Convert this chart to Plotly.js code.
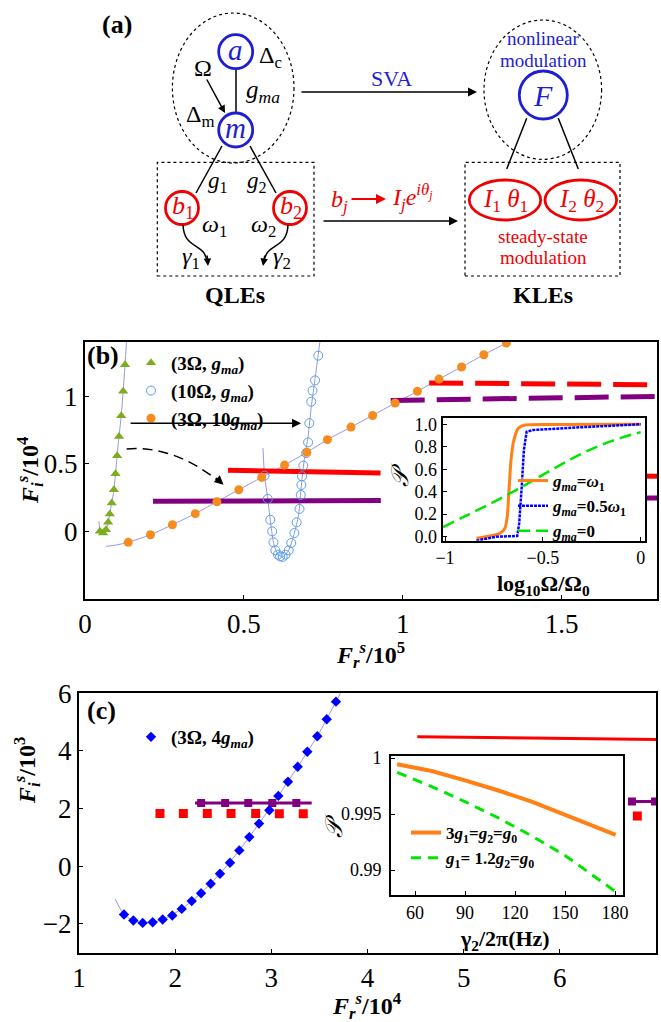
<!DOCTYPE html>
<html><head><meta charset="utf-8">
<script src="https://cdn.plot.ly/plotly-3.0.1.min.js"></script>
<style>body{margin:0;background:#fff}</style>
</head><body>
<div id="chart" style="width:661px;height:1022px"></div>
<script>
// ---------- Panel (b) data ----------
const bTriX = [0.047,0.057,0.066,0.073,0.078,0.084,0.091,0.096,0.101,0.107,0.114,0.120,0.126,0.131];
const bTriY = [0.000,-0.012,0.012,0.067,0.128,0.210,0.308,0.426,0.559,0.702,0.855,1.035,1.232,1.417];
const bTriCurveX = [0.044,0.047,0.053,0.060,0.066,0.073,0.078,0.084,0.091,0.096,0.101,0.107,0.114,0.120,0.126,0.131,0.134];
const bTriCurveY = [0.074,0.010,-0.015,-0.008,0.012,0.067,0.128,0.210,0.308,0.426,0.559,0.702,0.855,1.035,1.232,1.417,1.50];

const bCircX = [0.565,0.575,0.583,0.589,0.593,0.599,0.607,0.614,0.622,0.631,0.641,0.649,0.659,0.666,0.675,0.679,0.681,0.683,0.687,0.696,0.702,0.706,0.712,0.716,0.724,0.734];
const bCircY = [0.412,0.240,0.086,0.000,-0.081,-0.140,-0.172,-0.185,-0.189,-0.172,-0.140,-0.086,-0.012,0.067,0.166,0.269,0.343,0.407,0.486,0.579,0.658,0.800,0.959,1.040,1.116,1.299];
const bCircCurveX = [0.560,0.565,0.575,0.583,0.593,0.607,0.622,0.641,0.659,0.672,0.681,0.690,0.702,0.712,0.724,0.740];
const bCircCurveY = [0.616,0.412,0.240,0.086,-0.081,-0.172,-0.189,-0.140,-0.012,0.120,0.343,0.530,0.700,0.920,1.130,1.417];

const bOrX = [0.136,0.206,0.275,0.347,0.415,0.484,0.556,0.628,0.698,0.763,0.837,0.905,0.976,1.046,1.114,1.185,1.255,1.326];
const bOrY = [-0.081,-0.025,0.049,0.131,0.219,0.308,0.399,0.490,0.584,0.678,0.771,0.857,0.949,1.035,1.126,1.215,1.306,1.392];
const bOrCurveX = [0.066,0.100,0.136,0.206,0.275,0.347,0.415,0.484,0.556,0.628,0.698,0.763,0.837,0.905,0.976,1.046,1.114,1.185,1.255,1.326,1.36];
const bOrCurveY = [-0.111,-0.100,-0.081,-0.025,0.049,0.131,0.219,0.308,0.399,0.490,0.584,0.678,0.771,0.857,0.949,1.035,1.126,1.215,1.306,1.392,1.43];

const bRedSolidX = [0.45,0.93],  bRedSolidY = [0.451,0.431];
const bRedSolid2X = [1.60,1.80], bRedSolid2Y = [0.412,0.407];
const bPurSolidX = [0.214,0.931], bPurSolidY = [0.222,0.229];
const bPurSolid2X = [1.60,1.80], bPurSolid2Y = [0.245,0.247];
const bRedDashX = [1.083,1.80],  bRedDashY = [1.097,1.084];
const bPurDashX = [0.962,1.80],  bPurDashY = [0.968,0.998];

// ---------- Inset (b) data ----------
const insOrX = [-0.839,-0.770,-0.719,-0.694,-0.682,-0.674,-0.663,-0.648,-0.626,-0.592,-0.40,0.0];
const insOrY = [-0.014,0.006,0.030,0.075,0.178,0.386,0.680,0.860,0.964,0.994,0.998,1.0];
const insBlX = [-0.840,-0.736,-0.631,-0.621,-0.608,-0.597,-0.583,-0.549,-0.310,0.0];
const insBlY = [-0.036,0.000,0.006,0.120,0.445,0.771,0.934,0.949,0.973,1.0];
const insGrX = [-1.01,-0.90,-0.75,-0.60,-0.45,-0.30,-0.15,0.0];
const insGrY = [0.085,0.18,0.31,0.45,0.60,0.74,0.85,0.93];

// ---------- Panel (c) data ----------
const cDiaX = [1.468,1.565,1.662,1.766,1.870,1.970,2.068,2.172,2.269,2.369,2.466,2.570,2.667,2.771,2.872,2.979,3.073,3.173,3.274,3.374,3.478,3.576,3.672];
const cDiaY = [-1.677,-1.885,-1.966,-1.943,-1.85,-1.71,-1.48,-1.21,-0.935,-0.61,-0.26,0.12,0.55,1.01,1.48,1.94,2.44,2.93,3.45,3.97,4.51,5.10,5.71];
const cCurveX = [1.374,1.468,1.565,1.662,1.766,1.870,2.068,2.269,2.466,2.667,2.872,3.073,3.274,3.478,3.672,3.75];
const cCurveY = [-1.13,-1.677,-1.885,-1.966,-1.943,-1.85,-1.48,-0.935,-0.26,0.55,1.48,2.44,3.45,4.51,5.71,6.2];
const cPurX = [2.27,2.52,2.76,3.01,3.26], cPurY = [2.19,2.19,2.19,2.19,2.19];
const cPurLineX = [2.206,3.42], cPurLineY = [2.19,2.19];
const cPur2X = [6.75,6.99], cPur2Y = [2.25,2.25];
const cPur2LineX = [6.75,7.05], cPur2LineY = [2.25,2.25];
const cRedX = [1.842,2.085,2.334,2.581,2.837,3.083,3.332,6.806];
const cRedY = [1.83,1.83,1.83,1.83,1.83,1.82,1.82,1.74];
const cRedLineX = [4.518,7.0], cRedLineY = [4.49,4.40];

// ---------- Inset (c) data ----------
const insCOrX = [49.3,70,90,110,130,150,180.4];
const insCOrY = [0.99944,0.99884,0.99800,0.99710,0.99610,0.99495,0.99313];
const insCGrX = [49.3,70,90,110,130,150,180.4];
const insCGrY = [0.99872,0.99745,0.99610,0.99465,0.99305,0.99130,0.98806];

// ---------- helpers ----------
const W = 661, H = 1022;
const px = v => v / W;
const py = v => 1 - v / H;
const FONT = '"Liberation Serif", "Times New Roman", Times, serif';
const BLUE = 'rgb(30,30,210)', RED = 'rgb(240,0,0)';
const LAV = 'rgb(150,150,225)';
const ORANGE = 'rgb(255,128,20)', PURPLE = 'rgb(128,0,128)';
const GREEN = 'rgb(0,230,0)';

const traces = [];
function add(t) { traces.push(t); }

// Panel (b)
add({x: bTriCurveX, y: bTriCurveY, xaxis:'x', yaxis:'y', mode:'lines', line:{color:LAV, width:1, shape:'spline', smoothing:0.6}, showlegend:false, hoverinfo:'skip'});
add({x: bCircCurveX, y: bCircCurveY, xaxis:'x', yaxis:'y', mode:'lines', line:{color:LAV, width:1, shape:'spline', smoothing:0.6}, showlegend:false, hoverinfo:'skip'});
add({x: bOrCurveX, y: bOrCurveY, xaxis:'x', yaxis:'y', mode:'lines', line:{color:LAV, width:1, shape:'spline', smoothing:0.6}, showlegend:false, hoverinfo:'skip'});
add({x: bRedSolidX, y: bRedSolidY, xaxis:'x', yaxis:'y', mode:'lines', line:{color:'rgb(255,0,0)', width:5}, showlegend:false});
add({x: bRedSolid2X, y: bRedSolid2Y, xaxis:'x', yaxis:'y', mode:'lines', line:{color:'rgb(255,0,0)', width:5}, showlegend:false});
add({x: bPurSolidX, y: bPurSolidY, xaxis:'x', yaxis:'y', mode:'lines', line:{color:PURPLE, width:5}, showlegend:false});
add({x: bPurSolid2X, y: bPurSolid2Y, xaxis:'x', yaxis:'y', mode:'lines', line:{color:PURPLE, width:5}, showlegend:false});
add({x: bRedDashX, y: bRedDashY, xaxis:'x', yaxis:'y', mode:'lines', line:{color:'rgb(255,0,0)', width:5, dash:'34px,12px'}, showlegend:false});
add({x: bPurDashX, y: bPurDashY, xaxis:'x', yaxis:'y', mode:'lines', line:{color:PURPLE, width:5, dash:'34px,12px'}, showlegend:false});
add({x: bTriX, y: bTriY, xaxis:'x', yaxis:'y', mode:'markers', name:'<b>(3Ω, <i>g</i><sub><i>ma</i></sub>)</b>', marker:{symbol:'triangle-up', size:9, color:'rgb(125,172,30)'}, legend:'legend'});
add({x: bCircX, y: bCircY, xaxis:'x', yaxis:'y', mode:'markers', name:'<b>(10Ω, <i>g</i><sub><i>ma</i></sub>)</b>', marker:{symbol:'circle-open', size:9, color:'rgb(90,160,235)', line:{width:1}}, legend:'legend'});
add({x: bOrX, y: bOrY, xaxis:'x', yaxis:'y', mode:'markers', name:'<b>(3Ω, 10<i>g</i><sub><i>ma</i></sub>)</b>', marker:{symbol:'circle', size:9, color:'rgb(247,140,30)'}, legend:'legend'});

// Inset (b)
add({x: insOrX, y: insOrY, xaxis:'x2', yaxis:'y2', mode:'lines', name:'<b><i>g</i><sub><i>ma</i></sub>=<i>ω</i><sub>1</sub></b>', line:{color:ORANGE, width:3, shape:'spline', smoothing:0.5}, legend:'legend2'});
add({x: insBlX, y: insBlY, xaxis:'x2', yaxis:'y2', mode:'lines', name:'<b><i>g</i><sub><i>ma</i></sub>=0.5<i>ω</i><sub>1</sub></b>', line:{color:'rgb(0,0,255)', width:2.5, dash:'3px,1px'}, legend:'legend2'});
add({x: insGrX, y: insGrY, xaxis:'x2', yaxis:'y2', mode:'lines', name:'<b><i>g</i><sub><i>ma</i></sub>=0</b>', line:{color:GREEN, width:2.5, dash:'12px,6px', shape:'spline'}, legend:'legend2'});

// Panel (c)
add({x: cCurveX, y: cCurveY, xaxis:'x3', yaxis:'y3', mode:'lines', line:{color:LAV, width:1, shape:'spline', smoothing:0.6}, showlegend:false, hoverinfo:'skip'});
add({x: cRedLineX, y: cRedLineY, xaxis:'x3', yaxis:'y3', mode:'lines', line:{color:'rgb(255,0,0)', width:3}, showlegend:false});
add({x: cPurLineX, y: cPurLineY, xaxis:'x3', yaxis:'y3', mode:'lines', line:{color:PURPLE, width:3}, showlegend:false});
add({x: cPur2LineX, y: cPur2LineY, xaxis:'x3', yaxis:'y3', mode:'lines', line:{color:PURPLE, width:3}, showlegend:false});
add({x: cPurX, y: cPurY, xaxis:'x3', yaxis:'y3', mode:'markers', marker:{symbol:'square', size:8, color:PURPLE}, showlegend:false});
add({x: cPur2X, y: cPur2Y, xaxis:'x3', yaxis:'y3', mode:'markers', marker:{symbol:'square', size:8, color:PURPLE}, showlegend:false});
add({x: cRedX, y: cRedY, xaxis:'x3', yaxis:'y3', mode:'markers', marker:{symbol:'square', size:9, color:'rgb(255,0,0)'}, showlegend:false});
add({x: cDiaX, y: cDiaY, xaxis:'x3', yaxis:'y3', mode:'markers', name:'<b>(3Ω, 4<i>g</i><sub><i>ma</i></sub>)</b>', marker:{symbol:'diamond', size:8, color:'rgb(0,0,255)'}, legend:'legend3'});

// Inset (c)
add({x: insCOrX, y: insCOrY, xaxis:'x4', yaxis:'y4', mode:'lines', name:'<b>3<i>g</i><sub>1</sub>=<i>g</i><sub>2</sub>=<i>g</i><sub>0</sub></b>', line:{color:ORANGE, width:4}, legend:'legend4'});
add({x: insCGrX, y: insCGrY, xaxis:'x4', yaxis:'y4', mode:'lines', name:'<b><i>g</i><sub>1</sub>= 1.2<i>g</i><sub>2</sub>=<i>g</i><sub>0</sub></b>', line:{color:GREEN, width:3, dash:'10px,7px'}, legend:'legend4'});

// ---------- axes ----------
function ax(domain, range, tickvals, ticktext, anchor, fs, extra) {
  return Object.assign({
    domain: domain, range: range, tickvals: tickvals, ticktext: ticktext, anchor: anchor,
    showline: true, mirror: true, linewidth: 2, linecolor: 'black',
    showgrid: false, zeroline: false, ticks: 'inside', ticklen: 4, tickwidth: 1, tickcolor: 'black',
    tickfont: {family: FONT, size: fs, color: 'black'}, fixedrange: true
  }, extra || {});
}

// ---------- diagram (a) ----------
const shapes = [];
const annotations = [];
function ell(cx, cy, rx, ry, color, width, dash) {
  shapes.push({type:'circle', xref:'paper', yref:'paper', x0:px(cx-rx), x1:px(cx+rx), y0:py(cy+ry), y1:py(cy-ry), line:{color:color, width:width, dash:dash||'solid'}});
}
function rect(x0, y0, x1, y1) {
  shapes.push({type:'rect', xref:'paper', yref:'paper', x0:px(x0), x1:px(x1), y0:py(y1), y1:py(y0), line:{color:'black', width:1.2, dash:'dot'}});
}
function seg(x0, y0, x1, y1, color, width) {
  shapes.push({type:'line', xref:'paper', yref:'paper', x0:px(x0), x1:px(x1), y0:py(y0), y1:py(y1), line:{color:color||'black', width:width||1.5}});
}
function txt(x, y, text, size, color, extra) {
  annotations.push(Object.assign({xref:'paper', yref:'paper', x:px(x), y:py(y), text:text, showarrow:false,
    font:{family:FONT, size:size, color:color||'black'}, xanchor:'center', yanchor:'middle'}, extra||{}));
}
function arrow(x0, y0, x1, y1, color, width, size) {
  annotations.push({xref:'paper', yref:'paper', x:px(x1), y:py(y1), ax:x0-x1, ay:y0-y1, text:'', showarrow:true,
    arrowhead:2, arrowsize:size||1.2, arrowwidth:width||1.5, arrowcolor:color||'black', standoff:0});
}
function curve(pts, dash, width) {
  let d = 'M ' + px(pts[0][0]) + ',' + py(pts[0][1]) + ' C';
  for (let i = 1; i < pts.length; i++) d += ' ' + px(pts[i][0]) + ',' + py(pts[i][1]);
  shapes.push({type:'path', xref:'paper', yref:'paper', path:d, line:{color:'black', width:width||1.5, dash:dash||'solid'}});
}

// dotted groupings
ell(233.2, 88, 60.8, 75, 'black', 1.2, 'dot');
ell(542.8, 89.7, 58.8, 69.7, 'black', 1.2, 'dot');
rect(157.3, 162.3, 314, 276);
rect(465, 162.3, 620, 276);
// connectors
seg(236, 69, 236, 113);
seg(222, 146, 196, 193);
seg(250, 146, 276, 193);
seg(526.7, 118.3, 506.7, 169);
seg(558.3, 118.3, 578.3, 169);
// nodes
ell(235.7, 51.7, 17, 17, BLUE, 2.8);
ell(235.7, 130, 17, 17, BLUE, 2.8);
ell(182, 208, 16.5, 16.5, RED, 2.8);
ell(290, 208, 16.5, 16.5, RED, 2.8);
ell(543.3, 95, 24, 24, BLUE, 2.8);
ell(505, 200, 35.7, 20, RED, 2.8);
ell(580.8, 200, 35.8, 20, RED, 2.8);
// arrows
arrow(300, 92, 477, 92);
arrow(322, 221, 458, 221);
arrow(206, 78, 225, 113, 'black', 1.5, 1);
arrow(350, 199, 386, 199, RED, 2, 1);
curve([[183,225],[184,250],[205,242],[207,262]]);
arrow(207, 254, 208, 266, 'black', 1.5, 1);
curve([[288,225],[287,250],[266,242],[264,262]]);
arrow(265, 254, 263, 266, 'black', 1.5, 1);
// labels
txt(117, 25, '<b>(a)</b>', 26);
txt(235.7, 50, '<i>a</i>', 29, BLUE);
txt(270, 57, 'Δ<sub>c</sub>', 24);
txt(203, 68, 'Ω', 24);
txt(263, 91, '<i>g</i><sub><i>ma</i></sub>', 25);
txt(201, 116, 'Δ<sub>m</sub>', 24);
txt(235.7, 128, '<i>m</i>', 29, BLUE);
txt(218, 182, '<i>g</i><sub>1</sub>', 23);
txt(257, 182, '<i>g</i><sub>2</sub>', 23);
txt(183, 207, '<i>b</i><sub>1</sub>', 26, RED);
txt(291, 207, '<i>b</i><sub>2</sub>', 26, RED);
txt(214, 226, '<i>ω</i><sub>1</sub>', 24);
txt(263, 226, '<i>ω</i><sub>2</sub>', 24);
txt(191, 258, '<i>γ</i><sub>1</sub>', 24);
txt(282, 258, '<i>γ</i><sub>2</sub>', 24);
txt(235, 295, '<b>QLEs</b>', 24);
txt(543, 295, '<b>KLEs</b>', 24);
txt(391, 78, 'SVA', 22, BLUE);
txt(339, 201, '<i>b</i><sub><i>j</i></sub>', 24, RED);
txt(390, 197, '<i>I</i><sub><i>j</i></sub><i>e</i><sup><i>iθ</i><sub><i>j</i></sub></sup>', 24, RED, {xanchor:'left'});
txt(543, 38, 'nonlinear', 19, BLUE);
txt(543, 60, 'modulation', 19, BLUE);
txt(543.3, 95, '<i>F</i>', 30, BLUE);
txt(505, 200, '<i>I</i><sub>1</sub> <i>θ</i><sub>1</sub>', 25, RED);
txt(581, 200, '<i>I</i><sub>2</sub> <i>θ</i><sub>2</sub>', 25, RED);
txt(543, 236, 'steady-state', 19, RED);
txt(543, 258, 'modulation', 19, RED);

// ---------- chart annotations ----------
txt(103, 355, '<b>(b)</b>', 26);
txt(101, 710, '<b>(c)</b>', 26);
txt(30, 470, '<b><i>F</i><sub><i>i</i></sub><sup><i>s</i></sup>/10<sup>4</sup></b>', 24, 'black', {textangle:-90});
txt(370, 655, '<b><i>F</i><sub><i>r</i></sub><sup><i>s</i></sup>/10<sup>5</sup></b>', 24);
txt(27, 770, '<b><i>F</i><sub><i>i</i></sub><sup><i>s</i></sup>/10<sup>3</sup></b>', 24, 'black', {textangle:-90});
txt(367, 1006, '<b><i>F</i><sub><i>r</i></sub><sup><i>s</i></sup>/10<sup>4</sup></b>', 24);
txt(400, 475, '<i>𝒫</i>', 24, 'black', {textangle:-90});
txt(543, 585, '<b>log<sub>10</sub>Ω/Ω<sub>0</sub></b>', 22);
txt(334, 826, '<i>𝒫</i>', 24, 'black', {textangle:-90});
txt(505, 940, '<b>γ<sub>2</sub>/2π(Hz)</b>', 22);

// arrows inside (b)
annotations.push({xref:'x', yref:'y', x:0.68, y:0.80, ax:-172, ay:0, text:'', showarrow:true, arrowhead:2, arrowsize:1.2, arrowwidth:1.5, arrowcolor:'black', standoff:0});
shapes.push({type:'path', xref:'x', yref:'y', path:'M 0.131,0.609 Q 0.283,0.640 0.430,0.352', line:{color:'black', width:1.5, dash:'10px,6px'}});
annotations.push({xref:'x', yref:'y', x:0.436, y:0.345, ax:-9, ay:-8, text:'', showarrow:true, arrowhead:2, arrowsize:1.2, arrowwidth:1.5, arrowcolor:'black', standoff:0});

const legBase = {bgcolor:'rgba(0,0,0,0)', borderwidth:0, xanchor:'left', yanchor:'top', tracegroupgap:0, itemclick:false};

const layout = {
  width: W, height: H, margin: {l:0, r:0, t:0, b:0},
  paper_bgcolor: 'white', plot_bgcolor: 'white',
  font: {family: FONT, color: 'black'},
  xaxis: ax([px(85), px(657)], [0, 1.8], [0,0.5,1,1.5], ['0','0.5','1','1.5'], 'y', 27),
  yaxis: ax([py(599), py(342)], [-0.5, 1.4], [0,0.5,1], ['0','0.5','1'], 'x', 27, {ticklabelstandoff: 0}),
  xaxis2: ax([px(442.7), px(645)], [-1.012, 0.022], [-1,-0.5,0], ['−1','−0.5','0'], 'y2', 18),
  yaxis2: ax([py(540.7), py(418.3)], [-0.036, 1.053], [0,0.2,0.4,0.6,0.8,1.0], ['0.0','0.2','0.4','0.6','0.8','1.0'], 'x2', 18, {ticklabelstandoff: 0}),
  xaxis3: ax([px(79), px(656)], [1, 7], [1,2,3,4,5,6,7], ['1','2','3','4','5','6','7'], 'y3', 27, {ticklabelstandoff: 0}),
  yaxis3: ax([py(952.7), py(693.3)], [-3, 6], [-2,0,2,4,6], ['−2','0','2','4','6'], 'x3', 27, {ticklabelstandoff: 0}),
  xaxis4: ax([px(391), px(622.7)], [45.6, 184.6], [60,90,120,150,180], ['60','90','120','150','180'], 'y4', 18),
  yaxis4: ax([py(895), py(756)], [0.98777, 1.00018], [0.99,0.995,1], ['0.99','0.995','1'], 'x4', 18, {ticklabelstandoff: 4}),
  legend: Object.assign({}, legBase, {x: px(131), y: py(344), font:{family:FONT, size:19, color:'black'}}),
  legend2: Object.assign({}, legBase, {x: px(513), y: py(463), font:{family:FONT, size:17, color:'black'}}),
  legend3: Object.assign({}, legBase, {x: px(131), y: py(718), font:{family:FONT, size:19, color:'black'}}),
  legend4: Object.assign({}, legBase, {x: px(406), y: py(815), font:{family:FONT, size:17, color:'black'}}),
  shapes: shapes,
  annotations: annotations
};

Plotly.newPlot('chart', traces, layout, {displayModeBar:false, staticPlot:true});
</script>
</body></html>
